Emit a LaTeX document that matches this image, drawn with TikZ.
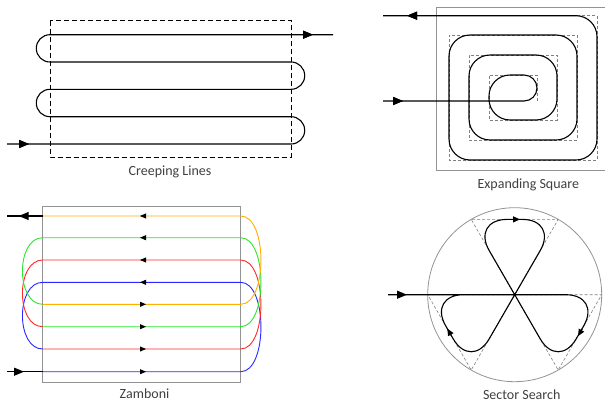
\documentclass[tikz,border=0pt]{standalone}
\usepackage{fontspec}
\setmainfont{Carlito}
\usetikzlibrary{arrows.meta,decorations.markings}
\definecolor{zamorange}{RGB}{255,175,0}
\definecolor{zamgreen}{RGB}{40,230,40}
\definecolor{zamred}{RGB}{255,40,40}
\definecolor{zamblue}{RGB}{40,40,255}
\definecolor{labelgray}{RGB}{64,64,64}
\tikzset{
	trail/.style={black,line width=1.1pt},
	zone/.style={gray!85,line width=0.8pt},
	dashzone/.style={gray,line width=0.6pt,dash pattern=on 3pt off 2pt},
	lane/.style={line width=0.9pt},
	caption/.style={text=labelgray,font=\fontsize{14}{16}\selectfont},
	tipat/.style={postaction={decorate},decoration={markings,mark=at position #1 with {\arrow{Triangle[length=10pt,width=8pt]}}}},
}
\begin{document}
\begin{tikzpicture}[x=1pt,y=-1pt]
		\useasboundingbox (0,0) rectangle (605,402);
		\clip (0,0) rectangle (605,402);
		\draw[line width=0.8pt,dash pattern=on 5pt off 3pt] (50,20.7) rectangle (291,157);
		\draw[trail,rounded corners=13.6pt,tipat=22pt,tipat=-20pt] (7,144) -- (304.7,144) -- (304.7,116.7) -- (36.3,116.7) -- (36.3,89.3) -- (304.7,89.3) -- (304.7,62) -- (36.3,62) -- (36.3,34.7) -- (333,34.7);
		\node[caption] (creeping) at (170,172) {Creeping Lines};
		\draw[zone] (610,7.3) -- (436.7,7.3) -- (436.7,170.7) -- (610,170.7);
		\draw[dashzone] (537,101) -- (537,75) -- (489,75) -- (489,120) -- (557,120) -- (557,55) -- (469,55) -- (469,140) -- (577,140) -- (577,35) -- (449,35) -- (449,160) -- (597,160) -- (597,15.7) -- (560,15.7);
		\draw[trail,rounded corners=13pt,tipat=20pt,tipat=-24pt] (383,101) -- (537,101) -- (537,75) [rounded corners=21pt] -- (489,75) -- (489,120) -- (557,120) -- (557,55) -- (469,55) -- (469,140) -- (577,140) -- (577,35) -- (449,35) -- (449,160) -- (597,160) -- (597,15.7) -- (383,15.7);
		\node[caption] (expanding) at (528.3,185) {Expanding Square};
		\draw[zone] (42.7,206.7) rectangle (240.7,382.3);
		\draw[lane,zamblue] (42.7,371.7) -- (240.7,371.7) .. controls (267.7,371.7) and (267.7,282.3) .. (240.7,282.3) -- (42.7,282.3) .. controls (15.7,282.3) and (15.7,349) .. (42.7,349);
		\draw[lane,zamred] (42.7,349) -- (240.7,349) .. controls (267.7,349) and (267.7,260) .. (240.7,260) -- (42.7,260) .. controls (15.7,260) and (15.7,326.7) .. (42.7,326.7);
		\draw[lane,zamgreen] (42.7,326.7) -- (240.7,326.7) .. controls (267.7,326.7) and (267.7,237.7) .. (240.7,237.7) -- (42.7,237.7) .. controls (15.7,237.7) and (15.7,304.3) .. (42.7,304.3);
		\draw[lane,zamorange] (42.7,304.3) -- (240.7,304.3) .. controls (267.7,304.3) and (267.7,216) .. (240.7,216) -- (42.7,216);
		\foreach \y in {216,237.7,260,282.3}
			\fill (140,\y) -- (146,\y-2.6) -- (146,\y+2.6) -- cycle;
		\foreach \y in {304.3,326.7,349,371.7}
			\fill (146,\y) -- (140,\y-2.6) -- (140,\y+2.6) -- cycle;
		\draw[trail,tipat=17pt] (7,371.7) -- (42.7,371.7);
		\draw[trail,tipat=24pt] (42.7,216) -- (7,216);
		\node[caption] (zamboni) at (144.5,394) {Zamboni};
		\draw[zone] (514.7,294.7) circle (87);
		\draw[dashzone] (514.7,294.7) -- (558.2,219.4) -- (471.2,219.4) -- cycle;
		\draw[dashzone] (514.7,294.7) -- (601.7,294.7) -- (558.2,370) -- cycle;
		\draw[dashzone] (514.7,294.7) -- (427.7,294.7) -- (471.2,370) -- cycle;
		\draw[trail,rounded corners=36pt,tipat=19pt] (388,294.7) -- (601.7,294.7) -- (558.2,370) -- (471.2,219.4) -- (558.2,219.4) -- (471.2,370) -- (427.7,294.7) -- (514.7,294.7);
		\draw[trail,-{Triangle[length=7pt,width=6pt]}] (511,219.4) -- (520,219.4);
		\draw[trail,-{Triangle[length=7pt,width=6pt]}] (582.2,328.9) -- (578,336.2);
		\draw[trail,-{Triangle[length=7pt,width=6pt]}] (451.5,335.9) -- (447.3,328.6);
		\node[caption] (sector) at (521.7,395) {Sector Search};
	\end{tikzpicture}
\end{document}
